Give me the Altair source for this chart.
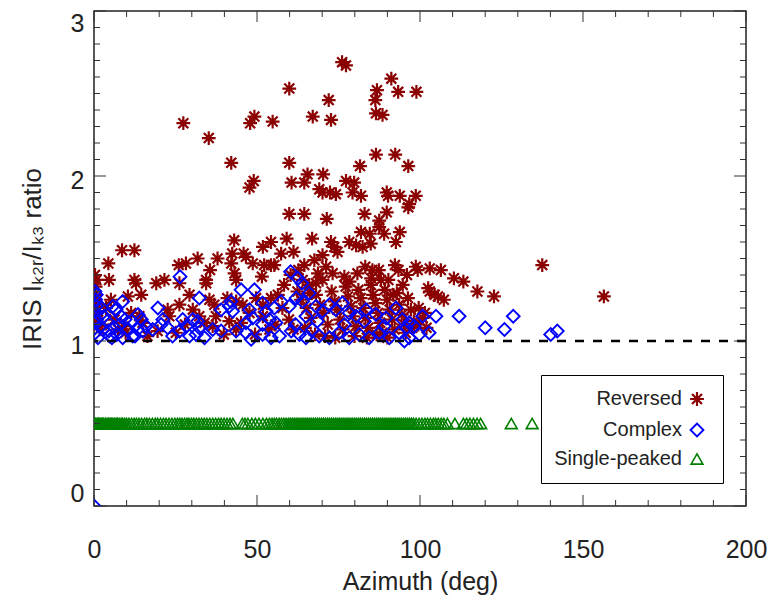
import altair as alt
import pandas as pd

# ---------------- data ----------------
rev_azimuth = [
    76.1, 77.3, 91.2, 86.8, 93.3, 98.9, 86.3, 72.0, 59.9, 86.5, 88.5, 67.1, 72.7, 49.2, 47.9, 54.8,
    27.4, 35.2, 42.1, 59.9, 86.5, 92.4, 81.6, 96.4, 65.5, 70.3, 49.0, 47.7, 60.6, 64.5, 69.1, 70.1,
    72.4, 74.2, 77.3, 79.8, 79.3, 81.9, 89.8, 90.2, 93.8, 98.7, 96.7, 96.4, 89.8, 87.5, 59.9, 64.5,
    71.4, 83.0, 87.5, 89.0, 43.0, 54.3, 51.8, 59.1, 66.9, 72.7, 73.7, 74.7, 78.3, 80.4, 82.4, 84.9,
    81.9, 84.6, 93.8, 92.6, 61.2, 57.4, 45.9, 46.6, 48.7, 42.4, 42.1, 37.9, 35.6, 34.4, 31.8, 28.2,
    26.0, 8.6, 12.4, 4.4, 52.2, 54.3, 55.3, 64.5, 67.6, 70.1, 92.3, 93.4, 99.3, 71.2, 73.2, 70.1,
    64.0, 66.0, 68.1, 85.4, 88.0, 4.6, 0.7, 12.4, 12.9, 19.1, 21.6, 26.2, 34.4, 43.6, 43.1, 51.5,
    10.4, 14.5, 29.3, 26.2, 22.6, 23.1, 35.4, 36.9, 40.9, 43.6, 45.6, 49.7, 51.8, 54.3, 11.4, 13.9,
    14.9, 9.2, 9.7, 0.7, 1.7, 30.3, 32.3, 33.9, 37.4, 36.4, 45.1, 43.6, 47.7, 53.8, 51.8,
    103.0, 106.4, 103.0, 105.5, 107.3, 110.4, 113.3, 117.6, 122.7, 104.5, 102.5, 137.5, 156.4,
    0.3, 0.5, 0.3, 0.8, 1.2, 0.5, 2.5, 3.7, 5.2, 6.3, 7.4,
    62.4, 63.5, 65.2, 66.5, 68.1, 69.3, 70.4, 71.7, 72.9, 73.8, 74.6, 75.5, 76.3, 77.2, 77.9, 78.8,
    79.4, 80.3, 81.1, 81.8, 82.6, 83.3, 84.1, 84.9, 85.6, 86.3, 87.1, 87.8, 88.5, 89.2, 89.9, 90.7,
    91.4, 92.2, 92.9, 93.6, 94.4, 95.1, 96.3, 97.2, 98.1, 99.6, 100.8, 102.0, 64.7, 67.8, 70.9, 74.0,
    79.9, 83.7, 86.7, 90.0, 76.8, 80.8, 83.2, 87.4, 90.3, 94.7, 96.0, 98.7, 68.7, 66.2, 78.4, 85.0,
    91.8, 95.6, 97.6, 57.8, 59.8, 61.2, 56.4, 58.3, 60.3, 62.7, 16.4, 19.5, 25.1, 27.9, 39.8, 41.5,
    49.4, 55.6, 101.5, 99.5,
]
rev_ratio = [
    2.69, 2.67, 2.59, 2.52, 2.51, 2.51, 2.46, 2.46, 2.53, 2.38, 2.37, 2.36, 2.34, 2.36, 2.32, 2.33,
    2.32, 2.23, 2.08, 2.08, 2.13, 2.13, 2.06, 2.06, 2.01, 2.01, 1.97, 1.93, 1.96, 1.96, 1.92, 1.90,
    1.90, 1.89, 1.97, 1.96, 1.90, 1.88, 1.90, 1.88, 1.88, 1.88, 1.83, 1.81, 1.78, 1.73, 1.77, 1.77,
    1.74, 1.77, 1.69, 1.65, 1.61, 1.60, 1.57, 1.62, 1.62, 1.60, 1.57, 1.54, 1.60, 1.58, 1.57, 1.59,
    1.66, 1.65, 1.66, 1.60, 1.54, 1.53, 1.53, 1.51, 1.47, 1.53, 1.47, 1.50, 1.43, 1.37, 1.50, 1.47,
    1.46, 1.55, 1.55, 1.47, 1.46, 1.46, 1.46, 1.46, 1.49, 1.52, 1.46, 1.43, 1.43, 1.45, 1.41, 1.37,
    1.37, 1.34, 1.35, 1.43, 1.37, 1.37, 1.37, 1.37, 1.35, 1.35, 1.37, 1.35, 1.35, 1.37, 1.41, 1.39,
    1.27, 1.28, 1.28, 1.22, 1.19, 1.15, 1.25, 1.22, 1.26, 1.24, 1.22, 1.26, 1.22, 1.26, 1.17, 1.15,
    1.11, 1.09, 1.05, 1.15, 1.07, 1.19, 1.15, 1.11, 1.15, 1.09, 1.11, 1.07, 1.17, 1.07, 1.15,
    1.44, 1.43, 1.30, 1.27, 1.25, 1.38, 1.36, 1.30, 1.27, 1.28, 1.32, 1.46, 1.27,
    1.40, 1.33, 1.28, 1.23, 1.18, 1.12, 1.10, 1.20, 1.25, 1.13, 1.07,
    1.30, 1.25, 1.20, 1.14, 1.28, 1.22, 1.17, 1.10, 1.30, 1.24, 1.19, 1.13, 1.07, 1.33, 1.27, 1.21,
    1.15, 1.09, 1.31, 1.26, 1.20, 1.14, 1.08, 1.34, 1.28, 1.23, 1.17, 1.11, 1.05, 1.31, 1.25, 1.19,
    1.13, 1.07, 1.29, 1.22, 1.16, 1.10, 1.26, 1.19, 1.12, 1.20, 1.14, 1.08, 1.08, 1.04, 1.03, 1.02,
    1.03, 1.02, 1.04, 1.02, 1.39, 1.41, 1.45, 1.43, 1.37, 1.34, 1.40, 1.45, 1.41, 1.29, 1.36, 1.38,
    1.28, 1.05, 1.08, 1.20, 1.13, 1.07, 1.28, 1.34, 1.40, 1.43, 1.03, 1.06, 1.05, 1.10, 1.04, 1.12,
    1.04, 1.10, 1.17, 1.10,
]

cpx_azimuth = [
    26.4, 19.6, 27.2, 28.3, 32.3, 32.3, 45.1, 49.2, 42.0, 41.5, 39.0, 42.5, 51.7, 52.8, 55.3, 57.4,
    59.9, 62.0, 64.0, 66.0, 68.1, 65.0, 70.1, 72.2, 74.2, 76.2, 78.3, 80.4, 83.4, 86.5, 89.6, 92.6,
    94.6, 96.7, 98.2, 100.8, 102.8, 104.9, 99.8, 95.2,
    0.7, 0.7, 0.0, 5.8, 6.8, 8.8, 8.3, 6.3, 2.7, 4.8, 8.8, 11.9, 14.5, 13.4, 15.0, 16.0,
    18.0, 20.6, 24.1, 26.2, 29.3, 31.3, 33.9, 36.4, 39.0, 43.6, 46.6, 48.2, 51.7, 54.3, 56.9, 21.1,
    22.6, 30.3, 31.8, 47.7, 48.7, 46.6, 53.8, 55.8, 51.7,
    60.5, 63.0, 65.0, 67.0, 69.1, 72.2, 75.2, 78.3, 81.4, 84.4, 87.5, 90.6, 93.6, 96.7, 61.8, 68.5,
    76.8, 82.9, 89.0, 95.8,
    0.3, 0.5, 0.2, 0.8, 0.4, 1.2, 2.0, 3.1, 4.0, 4.5, 5.5, 7.0, 8.0, 9.5, 10.5, 11.5,
    12.6, 13.5, 2.4, 6.5, 60.3, 62.5, 63.8,
    112.0, 120.0, 128.6, 125.9, 140.1, 142.1,
    0.0,
]
cpx_ratio = [
    1.39, 1.20, 1.13, 1.09, 1.26, 1.08, 1.31, 1.31, 1.24, 1.21, 1.19, 1.18, 1.23, 1.18, 1.20, 1.24,
    1.21, 1.26, 1.24, 1.29, 1.21, 1.15, 1.18, 1.22, 1.19, 1.23, 1.17, 1.15, 1.19, 1.16, 1.14, 1.20,
    1.13, 1.11, 1.09, 1.15, 1.05, 1.15, 1.04, 1.00,
    1.28, 1.21, 1.11, 1.21, 1.19, 1.24, 1.15, 1.08, 1.07, 1.03, 1.02, 1.03, 1.13, 1.07, 1.06, 1.09,
    1.07, 1.10, 1.03, 1.06, 1.03, 1.04, 1.02, 1.07, 1.06, 1.06, 1.05, 1.01, 1.04, 1.02, 1.03, 1.13,
    1.08, 1.13, 1.12, 1.19, 1.14, 1.11, 1.13, 1.11, 1.10,
    1.06, 1.04, 1.02, 1.07, 1.03, 1.02, 1.05, 1.02, 1.04, 1.02, 1.05, 1.02, 1.05, 1.02, 1.10, 1.12,
    1.10, 1.12, 1.09, 1.08,
    1.30, 1.25, 1.18, 1.13, 1.05, 1.02, 1.09, 1.15, 1.12, 1.06, 1.02, 1.04, 1.10, 1.13, 1.07, 1.12,
    1.03, 1.16, 1.20, 1.19, 1.42, 1.38, 1.35,
    1.15, 1.08, 1.15, 1.07, 1.04, 1.06,
    0.0,
]

sgl_azimuth = [
    0.0, 0.3, 0.6, 1.0, 1.4, 1.8, 2.2, 2.6, 3.0, 3.5, 4.0, 4.4, 4.9, 5.3, 5.8, 6.3, 6.8, 7.2, 7.7,
    8.3, 8.8, 9.4, 10.0, 10.7, 11.5, 12.3, 13.0, 13.8, 14.6, 15.5, 16.2, 17.0, 17.9, 18.8, 19.5,
    20.4, 21.3, 22.1, 23.0, 23.9, 24.8, 25.6, 26.3, 27.0, 27.8, 28.5, 29.1, 29.9, 30.6, 31.4, 32.2,
    33.0, 33.8, 34.6, 35.5, 36.4, 37.3, 38.2, 39.0, 39.9, 40.8, 41.7, 42.6, 45.5, 46.3, 47.2, 48.4,
    49.5, 50.6, 51.8, 52.9, 53.8, 54.6, 55.3, 56.0, 56.8, 57.5, 58.2, 58.9, 59.6, 60.2, 60.8, 61.4,
    62.0, 62.6, 63.2, 63.8, 64.4, 65.0, 65.6, 66.2, 66.8, 67.4, 68.0, 68.6, 69.2, 69.8, 70.4, 71.0,
    71.6, 72.2, 72.8, 73.4, 74.0, 74.6, 75.2, 75.8, 76.4, 77.0, 77.6, 78.2, 78.8, 79.4, 80.0, 80.6,
    81.2, 81.8, 82.4, 83.0, 83.6, 84.2, 84.8, 85.4, 86.0, 86.6, 87.2, 87.8, 88.4, 89.0, 89.6, 90.2,
    90.8, 91.4, 92.0, 92.6, 93.2, 93.8, 94.4, 95.0, 95.6, 96.2, 96.8, 97.4, 98.0, 98.8, 99.7, 100.6,
    101.5, 102.3, 103.2, 104.1, 104.8, 105.6, 106.5, 107.3, 108.4, 110.7, 113.3, 114.3, 115.3, 116.4,
    117.5, 118.6, 128.0, 134.4, 163.2,
]
sgl_ratio_level = 0.5

categories = ["Reversed", "Complex", "Single-peaked"]
colors = ["#8b0000", "#0000ff", "#008000"]

x_major = [0, 50, 100, 150, 200]
x_minor = [10, 20, 30, 40, 60, 70, 80, 90, 110, 120, 130, 140, 160, 170, 180, 190]
y_major = [0, 1, 2, 3]
y_minor = [0.1, 0.2, 0.3, 0.4, 0.5, 0.6, 0.7, 0.8, 0.9, 1.1, 1.2, 1.3, 1.4, 1.5, 1.6, 1.7, 1.8, 1.9,
           2.1, 2.2, 2.3, 2.4, 2.5, 2.6, 2.7, 2.8, 2.9]
ref_level = [1.0]

# ---------------- table ----------------
df = pd.concat([
    pd.DataFrame({"azimuth": rev_azimuth, "ratio": rev_ratio, "type": "Reversed"}),
    pd.DataFrame({"azimuth": cpx_azimuth, "ratio": cpx_ratio, "type": "Complex"}),
    pd.DataFrame({"azimuth": sgl_azimuth, "ratio": sgl_ratio_level, "type": "Single-peaked"}),
], ignore_index=True)
df["order"] = range(len(df))

W, H = 652, 495
FONT = "Liberation Sans"
TXT = "#222222"
XTITLE = "Azimuth (deg)"
YTITLE = "IRIS Iₖ₂ᵣ/Iₖ₃ ratio"

asterisk = "M-1,0L1,0M0,-1L0,1M-0.72,-0.72L0.72,0.72M-0.72,0.72L0.72,-0.72"

xscale = alt.Scale(domain=[0, 200], nice=False, zero=False)
yscale = alt.Scale(domain=[0, 3], nice=False, zero=False)

leg = alt.Legend(
    title=None, orient="none", legendX=447, legendY=364,
    fillColor="white", strokeColor="black", padding=14,
    labelFont=FONT, labelFontSize=20, labelColor=TXT,
    labelAlign="right", labelOffset=alt.ExprRef(expr="-25"), symbolOffset=132,
    symbolSize=121, symbolStrokeWidth=1.6, rowPadding=8,
)

xaxis = alt.Axis(values=x_major, format="d", ticks=False, domain=False, grid=False,
                 labelFontSize=25, labelPadding=31, labelFlush=False,
                 title=XTITLE, titleFontSize=25, titleY=83, titleBaseline="alphabetic")
yaxis = alt.Axis(values=y_major, format="d", ticks=False, domain=False, grid=False,
                 labelFontSize=25, labelPadding=10, labelFlush=True,
                 labelOffset={"condition": {"test": "datum.value === 1 || datum.value === 2", "value": 4}, "value": 0},
                 title=YTITLE, titleFontSize=26,
                 titleAngle=270, titleX=-54, titleY=H / 2,
                 titleAlign="center", titleBaseline="alphabetic")

points = alt.Chart(df).mark_point(filled=False, clip=True, opacity=1).encode(
    x=alt.X("azimuth:Q", scale=xscale, axis=xaxis, title=XTITLE),
    y=alt.Y("ratio:Q", scale=yscale, axis=yaxis, title=YTITLE),
    color=alt.Color("type:N", scale=alt.Scale(domain=categories, range=colors), legend=leg),
    shape=alt.Shape("type:N", scale=alt.Scale(domain=categories, range=[asterisk, "diamond", "triangle-up"]), legend=leg),
    size=alt.Size("type:N", scale=alt.Scale(domain=categories, range=[190, 140, 130]), legend=None),
    strokeWidth=alt.StrokeWidth("type:N", scale=alt.Scale(domain=categories, range=[2.2, 1.6, 1.5]), legend=None),
    order=alt.Order("order:Q"),
)

dashed = alt.Chart(pd.DataFrame({"ratio": ref_level})).mark_rule(
    color="black", strokeDash=[9, 9], strokeWidth=2.5
).encode(y=alt.Y("ratio:Q", scale=yscale, title=YTITLE))

def xticks(vals, length):
    d = pd.DataFrame({"azimuth": vals})
    bottom = alt.Chart(d).mark_rule(color="#333", strokeWidth=1).encode(
        x=alt.X("azimuth:Q", scale=xscale, title=XTITLE), y=alt.value(H), y2=alt.value(H - length))
    top = alt.Chart(d).mark_rule(color="#333", strokeWidth=1).encode(
        x=alt.X("azimuth:Q", scale=xscale, title=XTITLE), y=alt.value(0), y2=alt.value(length))
    return [bottom, top]

def yticks(vals, length):
    d = pd.DataFrame({"ratio": vals})
    left = alt.Chart(d).mark_rule(color="#333", strokeWidth=1).encode(
        y=alt.Y("ratio:Q", scale=yscale, title=YTITLE), x=alt.value(0), x2=alt.value(length))
    right = alt.Chart(d).mark_rule(color="#333", strokeWidth=1).encode(
        y=alt.Y("ratio:Q", scale=yscale, title=YTITLE), x=alt.value(W), x2=alt.value(W - length))
    return [left, right]

layers = [points, dashed] + xticks(x_major, 11) + xticks(x_minor, 6) + yticks(y_major, 12) + yticks(y_minor, 6)

chart = alt.layer(*layers).properties(
    width=W, height=H,
    autosize=alt.AutoSizeParams(type="none"),
    padding={"left": 94, "top": 11, "right": 27, "bottom": 98},
    background="white",
).configure_view(
    stroke="#222", strokeWidth=1.5
).configure_axis(
    labelFont=FONT, titleFont=FONT, labelColor=TXT, titleColor=TXT, titleFontWeight="normal"
)

chart.save("out.html", embed_options={"renderer": "svg", "actions": False})
